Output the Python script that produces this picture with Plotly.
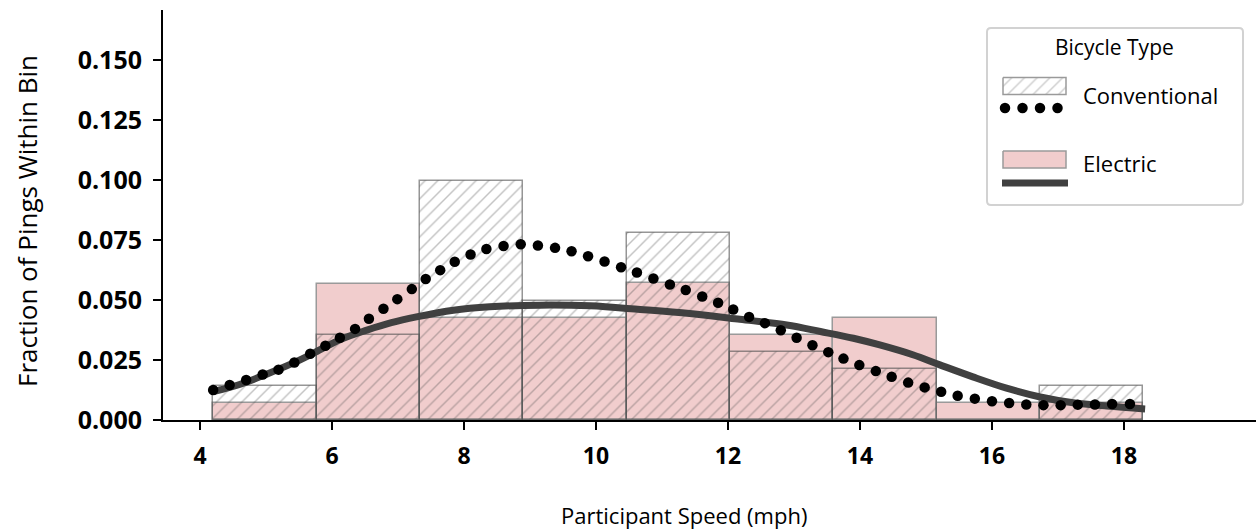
import plotly.graph_objects as go

# ---------------- data ----------------
bin_edges = [4.200, 5.766, 7.332, 8.898, 10.464, 12.030, 13.596, 15.162, 16.728, 18.294]
conventional_frac = [0.0143, 0.0356, 0.0996, 0.0497, 0.0780, 0.0283, 0.0211, 0.0000, 0.0143]
electric_frac = [0.0072, 0.0567, 0.0424, 0.0424, 0.0570, 0.0354, 0.0424, 0.0072, 0.0072]

conv_kde_x = [4.20, 4.45, 4.70, 4.95, 5.19, 5.43, 5.67, 5.90, 6.12, 6.35, 6.56, 6.78, 6.99,
              7.21, 7.42, 7.64, 7.86, 8.10, 8.34, 8.60, 8.86, 9.12, 9.38, 9.63, 9.88, 10.13,
              10.38, 10.62, 10.87, 11.12, 11.36, 11.61, 11.85, 12.08, 12.32, 12.56, 12.80,
              13.04, 13.28, 13.52, 13.75, 13.99, 14.24, 14.48, 14.73, 14.98, 15.23, 15.48,
              15.74, 16.00, 16.26, 16.52, 16.78, 17.04, 17.30, 17.56, 17.82, 18.09]
conv_kde_y = [0.0125, 0.0146, 0.0167, 0.0190, 0.0210, 0.0240, 0.0276, 0.0310, 0.0343, 0.0380,
              0.0422, 0.0464, 0.0504, 0.0546, 0.0588, 0.0625, 0.0660, 0.0690, 0.0713, 0.0726,
              0.0733, 0.0728, 0.0718, 0.0704, 0.0683, 0.0661, 0.0637, 0.0615, 0.0590, 0.0565,
              0.0542, 0.0515, 0.0489, 0.0461, 0.0430, 0.0404, 0.0374, 0.0343, 0.0312, 0.0283,
              0.0256, 0.0229, 0.0204, 0.0180, 0.0156, 0.0136, 0.0118, 0.0101, 0.0089, 0.0078,
              0.0071, 0.0065, 0.0062, 0.0062, 0.0064, 0.0065, 0.0067, 0.0067]

elec_kde_x = [4.20, 4.60, 5.00, 5.40, 5.75, 6.12, 6.53, 6.90, 7.28, 7.84, 8.39, 9.15, 9.91,
              10.67, 11.42, 12.18, 12.89, 13.40, 13.90, 14.30, 14.80, 15.21, 15.71, 16.22,
              16.73, 17.23, 17.74, 18.32]
elec_kde_y = [0.0118, 0.0148, 0.0190, 0.0236, 0.0283, 0.0335, 0.0375, 0.0406, 0.0430, 0.0458,
              0.0472, 0.0479, 0.0476, 0.0461, 0.0444, 0.0420, 0.0396, 0.0369, 0.0341, 0.0313,
              0.0272, 0.0230, 0.0180, 0.0133, 0.0096, 0.0072, 0.0058, 0.0046]

x_ticks = [4, 6, 8, 10, 12, 14, 16, 18]
y_ticks = [0.000, 0.025, 0.050, 0.075, 0.100, 0.125, 0.150]

series_names = ["Conventional", "Electric"]
legend_title = "Bicycle Type"
x_title = "Participant Speed (mph)"
y_title = "Fraction of Pings Within Bin"

# ---------------- derived ----------------
centers = [(a + b) / 2 for a, b in zip(bin_edges[:-1], bin_edges[1:])]
widths = [b - a for a, b in zip(bin_edges[:-1], bin_edges[1:])]

PINK = "#f1cdcd"
EDGE = "#9a9a9a"
HATCH = "rgba(80,80,80,0.7)"
FONT = "Open Sans"

fig = go.Figure()

fig.add_trace(go.Bar(
    x=centers, y=electric_frac, width=widths,
    marker=dict(color=PINK, line=dict(color=EDGE, width=1.5)),
    showlegend=False,
))
fig.add_trace(go.Bar(
    x=centers, y=conventional_frac, width=widths,
    marker=dict(color="rgba(255,255,255,0)",
                line=dict(color="rgba(80,80,80,0.6)", width=1.5),
                pattern=dict(shape="/", fgcolor=HATCH,
                             bgcolor="rgba(255,255,255,0)", size=9, solidity=0.16)),
    showlegend=False,
))
fig.add_trace(go.Scatter(
    x=elec_kde_x, y=elec_kde_y, mode="lines",
    line=dict(color="#404040", width=7, shape="spline", smoothing=1.0),
    showlegend=False,
))
fig.add_trace(go.Scatter(
    x=conv_kde_x, y=conv_kde_y, mode="markers",
    marker=dict(color="black", size=10.5),
    showlegend=False,
))

# ---------------- manual legend on an overlay pixel-axis ----------------
L, R, T, B = 163, 1256, 10, 420
fig.add_trace(go.Scatter(
    x=[1003, 1066, 1066, 1003, 1003], y=[77.5, 77.5, 94.5, 94.5, 77.5],
    xaxis="x2", yaxis="y2", mode="lines", fill="toself",
    fillcolor="white",
    fillpattern=dict(shape="/", fgcolor="#9c9c9c", bgcolor="white", size=9, solidity=0.16),
    line=dict(color=EDGE, width=1.5), showlegend=False, hoverinfo="skip",
))
fig.add_trace(go.Scatter(
    x=[1005, 1022.5, 1040, 1057.5], y=[108, 108, 108, 108],
    xaxis="x2", yaxis="y2", mode="markers",
    marker=dict(color="black", size=10.5), showlegend=False, hoverinfo="skip",
))
fig.add_trace(go.Scatter(
    x=[1003, 1066, 1066, 1003, 1003], y=[151, 151, 168, 168, 151],
    xaxis="x2", yaxis="y2", mode="lines", fill="toself", fillcolor=PINK,
    line=dict(color=EDGE, width=1.5), showlegend=False, hoverinfo="skip",
))
fig.add_trace(go.Scatter(
    x=[1002, 1068], y=[183, 183],
    xaxis="x2", yaxis="y2", mode="lines",
    line=dict(color="#404040", width=7), showlegend=False, hoverinfo="skip",
))

def rrect(x0, y0, x1, y1, r):
    return (f"M {x0+r},{y0} L {x1-r},{y0} Q {x1},{y0} {x1},{y0+r} "
            f"L {x1},{y1-r} Q {x1},{y1} {x1-r},{y1} L {x0+r},{y1} "
            f"Q {x0},{y1} {x0},{y1-r} L {x0},{y0+r} Q {x0},{y0} {x0+r},{y0} Z")

shapes = [dict(type="path", xref="x2", yref="y2", path=rrect(987, 28, 1243, 205, 4),
               line=dict(color="#d2d2d2", width=2), fillcolor="white", layer="below")]

annotations = [
    dict(x=1114, y=47, xref="x2", yref="y2", text=legend_title, showarrow=False,
         xanchor="center", yanchor="middle", font=dict(family=FONT, size=21, color="black")),
    dict(x=1081, y=95, xref="x2", yref="y2", text=series_names[0], showarrow=False,
         xanchor="left", yanchor="middle", font=dict(family=FONT, size=22, color="black")),
    dict(x=1081, y=163, xref="x2", yref="y2", text=series_names[1], showarrow=False,
         xanchor="left", yanchor="middle", font=dict(family=FONT, size=22, color="black")),
    dict(x=(684 - L) / (R - L), y=-(515 - B) / (B - T), xref="paper", yref="paper",
         text=x_title, showarrow=False, xanchor="center", yanchor="middle",
         font=dict(family=FONT, size=22, color="black")),
    dict(x=-(163 - 27) / (R - L), y=(B - 221) / (B - T), xref="paper", yref="paper",
         text=y_title, showarrow=False, xanchor="center", yanchor="middle", textangle=-90,
         font=dict(family=FONT, size=26, color="black")),
]

fig.update_layout(
    width=1256, height=529,
    margin=dict(l=L, r=1256 - R, t=T, b=529 - B, pad=0),
    paper_bgcolor="white", plot_bgcolor="white",
    barmode="overlay", bargap=0,
    showlegend=False,
    font=dict(family=FONT, color="black"),
    xaxis=dict(range=[3.44, 20.0], tickvals=x_ticks, ticktext=[str(v) for v in x_ticks],
               showline=True, linecolor="black", linewidth=2, mirror=False,
               ticks="outside", ticklen=8, tickwidth=2, tickcolor="black",
               showgrid=False, zeroline=False,
               tickfont=dict(family=FONT, size=23, color="black", weight="bold"),
               ticklabelstandoff=6),
    yaxis=dict(range=[0, 0.171], tickvals=y_ticks, ticktext=[f"{v:.3f}" for v in y_ticks],
               showline=True, linecolor="black", linewidth=2,
               ticks="outside", ticklen=8, tickwidth=2, tickcolor="black",
               showgrid=False, zeroline=False,
               tickfont=dict(family=FONT, size=25, color="black", weight="bold"),
               ticklabelstandoff=6),
    xaxis2=dict(range=[L, R], domain=[0, 1], anchor="y2", overlaying="x", visible=False,
                fixedrange=True),
    yaxis2=dict(range=[B, T], domain=[0, 1], anchor="x2", overlaying="y", visible=False,
                fixedrange=True),
    shapes=shapes,
    annotations=annotations,
)

fig.write_html("out.html")
